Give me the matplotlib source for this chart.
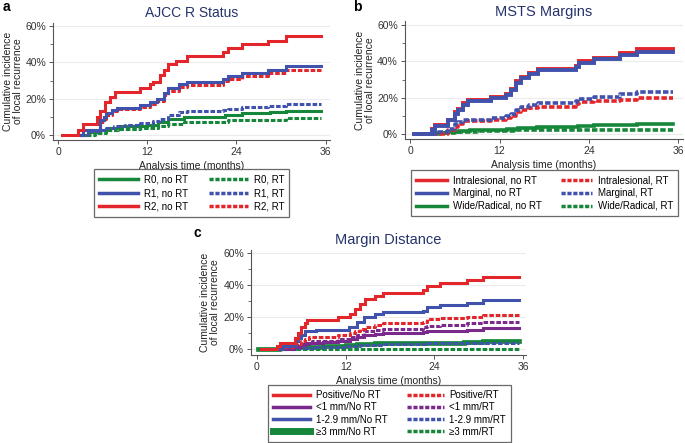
import numpy as np
import matplotlib
matplotlib.use("Agg")
import matplotlib.pyplot as plt
from matplotlib.lines import Line2D

plt.rcParams['font.family'] = ['Liberation Sans', 'DejaVu Sans']

RED = '#e3262b'
BLUE = '#4152ad'
GREEN = '#16873a'
PURPLE = '#7a2a8c'
NAVY = '#26336b'

# ---- panel a: AJCC R status ----
a_r2_nort_t = [0.5, 2.7, 3.4, 5.2, 5.6, 6.3, 7.0, 7.7, 11.0, 12.4, 12.8, 13.7, 14.2, 14.8, 15.9, 17.3, 22.2, 22.9, 24.7, 28.3, 30.7, 35.4]
a_r2_nort_y = [0, 3, 6, 10, 13, 18, 21, 23.5, 26, 28, 29, 33, 36, 39, 41, 43.5, 46, 48, 50, 52, 54.5, 54.5]
a_r1_nort_t = [3.0, 3.4, 5.6, 6.1, 6.5, 7.2, 7.9, 11.0, 12.4, 13.3, 14.2, 14.8, 16.2, 17.3, 22.2, 22.9, 24.7, 28.3, 30.7, 35.4]
a_r1_nort_y = [0, 3, 8, 10, 12, 14, 15, 16.5, 18, 20, 23, 26, 28, 29, 31, 32.5, 34, 36, 38, 38]
a_r2_rt_t = [3.0, 3.4, 5.6, 6.1, 6.5, 7.2, 7.9, 11.0, 12.4, 13.3, 14.2, 14.8, 16.2, 17.3, 22.2, 22.9, 24.7, 28.3, 30.7, 35.4]
a_r2_rt_y = [0, 2.5, 7, 9, 11, 13, 14.5, 15.5, 17, 19, 22, 24.5, 26.5, 27.5, 30, 31, 32.5, 34, 36, 36]
a_r1_rt_t = [3.0, 4.0, 5.6, 6.5, 7.5, 9.0, 11.0, 12.8, 13.7, 14.8, 16.2, 17.3, 22.2, 22.9, 24.7, 28.3, 30.7, 35.4]
a_r1_rt_y = [0, 2, 3, 4, 5, 5.5, 6.5, 7.5, 9, 11, 12.5, 13, 14, 14.5, 15.5, 16, 17, 17]
a_r0_nort_t = [3.0, 4.0, 5.6, 7.0, 8.0, 12.0, 13.5, 14.8, 17.0, 22.5, 24.7, 28.5, 30.7, 35.4]
a_r0_nort_y = [0, 1.5, 3, 4, 5, 5.5, 7, 9, 10, 11, 12, 12.5, 13.5, 13.5]
a_r0_rt_t = [3.0, 5.0, 6.5, 8.0, 11.0, 13.5, 14.8, 17.0, 22.8, 28.0, 30.7, 35.4]
a_r0_rt_y = [0, 1, 2.5, 3.5, 4, 5, 6, 7, 8, 8.5, 9.5, 9.5]

# ---- panel b: MSTS margins ----
b_intra_nort_t = [0.5, 2.9, 3.3, 5.1, 6.0, 6.4, 7.1, 7.8, 10.9, 12.9, 13.6, 14.2, 14.9, 16.0, 17.1, 22.2, 22.7, 24.7, 28.2, 30.4, 35.3]
b_intra_nort_y = [0, 3, 5, 8, 12, 14, 17, 18.5, 20.5, 22, 25, 29, 31.5, 33.5, 35.5, 37.5, 40, 42, 44.5, 46.5, 46.5]
b_marg_nort_t = [0.5, 2.9, 3.3, 5.1, 6.0, 6.4, 7.1, 7.8, 10.9, 12.9, 13.6, 14.2, 14.9, 16.0, 17.1, 22.2, 22.7, 24.7, 28.2, 30.4, 35.3]
b_marg_nort_y = [0, 2, 4.5, 7.5, 11, 13.5, 16, 18, 20, 21.5, 24.5, 28, 31, 33, 35, 37, 39, 41.5, 43.5, 45, 45]
b_marg_rt_t = [3.0, 3.5, 5.1, 6.0, 6.4, 7.1, 10.9, 12.9, 13.6, 14.2, 14.9, 16.0, 17.1, 22.2, 22.7, 24.7, 28.2, 30.4, 35.3]
b_marg_rt_y = [0, 1, 3, 5.5, 6.5, 8, 9, 10, 11, 13, 15, 16, 17, 18, 19.5, 20.5, 22, 23, 23]
b_intra_rt_t = [3.0, 5.1, 6.0, 6.4, 7.1, 10.9, 12.9, 13.6, 14.2, 14.9, 16.0, 17.1, 22.2, 22.7, 24.7, 28.2, 30.4, 35.3]
b_intra_rt_y = [0, 2, 4, 5.5, 7, 8, 9, 10, 12, 13.5, 14.5, 15, 16.5, 17.5, 18, 19, 20, 20]
b_wide_nort_t = [0.5, 3.0, 5.0, 6.5, 8.0, 11.0, 13.0, 14.5, 17.0, 22.5, 24.7, 30.4, 35.3]
b_wide_nort_y = [0, 0.5, 1, 1.5, 2, 2.5, 3, 3.5, 4, 4.5, 5, 5.5, 5.5]
b_wide_rt_t = [0.5, 4.0, 6.0, 9.0, 14.0, 35.3]
b_wide_rt_y = [0, 0.5, 1, 1.5, 2, 2]

# ---- panel c: margin distance ----
c_pos_nort_t = [0.5, 2.7, 3.1, 5.1, 5.6, 6.0, 6.5, 6.8, 11.0, 12.6, 13.3, 13.9, 14.6, 16.0, 17.1, 22.5, 23.0, 24.8, 28.4, 30.6, 35.4]
c_pos_nort_y = [0, 2, 4, 7, 10, 14, 16, 18, 20, 22, 25, 28, 31, 33, 35, 37, 39.5, 41, 43, 45, 45]
c_mid_nort_t = [3.0, 3.5, 5.1, 5.6, 6.0, 6.5, 8.0, 12.5, 13.5, 14.5, 16.0, 17.1, 22.5, 23.0, 24.8, 28.4, 30.6, 35.4]
c_mid_nort_y = [0, 2, 5, 7, 9, 11, 12, 14, 17, 20, 22, 23, 24, 26, 27.5, 29, 30.5, 30.5]
c_pos_rt_t = [3.0, 3.5, 5.1, 6.0, 6.5, 7.0, 11.0, 12.6, 13.3, 14.0, 14.6, 16.0, 17.1, 22.5, 23.0, 24.8, 28.4, 30.6, 35.4]
c_pos_rt_y = [0, 1, 3, 5, 6.5, 7.5, 8.5, 10, 11, 12.5, 14, 15, 16, 17, 18.5, 19.5, 20, 21.5, 21.5]
c_lt1_rt_t = [3.0, 4.0, 5.5, 6.5, 7.5, 11.0, 12.6, 13.5, 14.5, 16.0, 17.1, 22.5, 23.0, 24.8, 28.4, 30.6, 35.4]
c_lt1_rt_y = [0, 1, 2.5, 4, 5, 6, 7.5, 9, 11, 12, 12.5, 13.5, 14.5, 15, 16, 17, 17]
c_lt1_nort_t = [3.0, 5.0, 6.0, 7.0, 9.0, 11.0, 12.6, 13.5, 14.5, 16.0, 17.1, 22.5, 23.0, 24.8, 28.4, 30.6, 35.4]
c_lt1_nort_y = [0, 1.5, 3, 4, 4.5, 5, 6, 7.5, 9, 9.5, 10, 10.5, 11, 11.5, 12, 13, 13]
c_ge3_nort_t = [0.2, 3.0, 5.0, 7.0, 9.0, 12.0, 13.5, 16.0, 22.5, 28.0, 30.6, 35.4]
c_ge3_nort_y = [0, 0.5, 1, 1.5, 2, 2.5, 3, 3.5, 4, 4.5, 5, 5]
c_mid_rt_t = [3.0, 5.0, 8.0, 12.0, 14.0, 17.0, 23.0, 30.6, 35.4]
c_mid_rt_y = [0, 0.5, 1, 2, 2.5, 3, 3.5, 4, 4]
c_ge3_rt_t = [1.0, 35.4]
c_ge3_rt_y = [0, 0]

yticks = [0, 20, 40, 60]
ytick_labels = ['0%', '20%', '40%', '60%']
xticks = [0, 12, 24, 36]

DASH = (1.5, 0.6)


def setup_axes(ax, title, tsize):
    ax.set_xlim(-0.7, 36.6)
    ax.set_ylim(-2.75, 62)
    ax.set_yticks(yticks)
    ax.set_yticklabels(ytick_labels)
    ax.set_yticks([10, 30, 50], minor=True)
    ax.set_xticks(xticks)
    ax.grid(axis='y', which='major', color='#ececec', lw=0.8)
    ax.set_axisbelow(True)
    for s in ['top', 'right']:
        ax.spines[s].set_visible(False)
    for s in ['left', 'bottom']:
        ax.spines[s].set_color('#555555')
        ax.spines[s].set_linewidth(0.8)
    ax.tick_params(which='major', length=3, width=0.7, color='#555555', labelsize=7.5, labelcolor='#333333', pad=2)
    ax.tick_params(which='minor', length=2, width=0.6, color='#555555')
    ax.set_title(title, fontsize=tsize, color=NAVY, pad=4)
    ax.set_xlabel('Analysis time (months)', fontsize=7.5, color='#222222', labelpad=3)
    ax.set_ylabel('Cumulative incidence\nof local recurrence', fontsize=7.5, color='#222222', linespacing=1.0)


def curve(ax, t, y, color, dashed=False, lw=2.2):
    if dashed:
        ax.step(t, y, where='post', color=color, lw=lw, dashes=DASH)
    else:
        ax.step(t, y, where='post', color=color, lw=lw, solid_joinstyle='miter')


def handle(color, dashed=False, lw=2.5):
    if dashed:
        return Line2D([], [], color=color, lw=lw, dashes=(1.2, 0.5))
    return Line2D([], [], color=color, lw=lw)


fig = plt.figure(figsize=(6.85, 4.43), dpi=100)

# panel a
ax_a = fig.add_axes([0.0774, 0.684, 0.4044, 0.265])
setup_axes(ax_a, 'AJCC R Status', 10)
ax_a.yaxis.set_label_coords(-0.11, 0.5)
curve(ax_a, a_r0_rt_t, a_r0_rt_y, GREEN, True)
curve(ax_a, a_r0_nort_t, a_r0_nort_y, GREEN)
curve(ax_a, a_r1_rt_t, a_r1_rt_y, BLUE, True)
curve(ax_a, a_r2_rt_t, a_r2_rt_y, RED, True)
curve(ax_a, a_r1_nort_t, a_r1_nort_y, BLUE)
curve(ax_a, a_r2_nort_t, a_r2_nort_y, RED)

# panel b
ax_b = fig.add_axes([0.591, 0.686, 0.406, 0.266])
setup_axes(ax_b, 'MSTS Margins', 10.5)
ax_b.yaxis.set_label_coords(-0.108, 0.5)
curve(ax_b, b_wide_rt_t, b_wide_rt_y, GREEN, True, 2.6)
curve(ax_b, b_wide_nort_t, b_wide_nort_y, GREEN, False, 2.6)
curve(ax_b, b_intra_rt_t, b_intra_rt_y, RED, True, 2.6)
curve(ax_b, b_marg_rt_t, b_marg_rt_y, BLUE, True, 2.6)
curve(ax_b, b_intra_nort_t, b_intra_nort_y, RED, False, 2.8)
curve(ax_b, b_marg_nort_t, b_marg_nort_y, BLUE, False, 2.8)

# panel c
ax_c = fig.add_axes([0.3664, 0.1995, 0.4015, 0.2366])
setup_axes(ax_c, 'Margin Distance', 10.5)
ax_c.set_xlim(-0.8, 36.4)
ax_c.set_ylim(-3.5, 62)
ax_c.yaxis.set_label_coords(-0.112, 0.5)
curve(ax_c, c_ge3_rt_t, c_ge3_rt_y, GREEN, True)
curve(ax_c, c_ge3_nort_t, c_ge3_nort_y, GREEN, False, 3.4)
curve(ax_c, c_mid_rt_t, c_mid_rt_y, BLUE, True)
curve(ax_c, c_lt1_nort_t, c_lt1_nort_y, PURPLE)
curve(ax_c, c_lt1_rt_t, c_lt1_rt_y, PURPLE, True)
curve(ax_c, c_pos_rt_t, c_pos_rt_y, RED, True)
curve(ax_c, c_mid_nort_t, c_mid_nort_y, BLUE)
curve(ax_c, c_pos_nort_t, c_pos_nort_y, RED)

leg_kw = dict(loc='center', ncol=2, fontsize=7, frameon=True, fancybox=False,
              edgecolor='#444444', borderpad=0.5, handletextpad=0.6)

# legends
h_a = [handle(GREEN), handle(BLUE), handle(RED),
       handle(GREEN, True), handle(BLUE, True), handle(RED, True)]
l_a = ['R0, no RT', 'R1, no RT', 'R2, no RT', 'R0, RT', 'R1, RT', 'R2, RT']
lg = fig.legend(h_a, l_a, bbox_to_anchor=(0.2796, 0.5643), handlelength=4.0,
                labelspacing=0.38, columnspacing=2.2, **leg_kw)
lg.get_frame().set_linewidth(0.9)

h_b = [handle(RED), handle(BLUE), handle(GREEN),
       handle(RED, True), handle(BLUE, True), handle(GREEN, True)]
l_b = ['Intralesional, no RT', 'Marginal, no RT', 'Wide/Radical, no RT',
       'Intralesional, RT', 'Marginal, RT', 'Wide/Radical, RT']
lg = fig.legend(h_b, l_b, bbox_to_anchor=(0.795, 0.5643), handlelength=3.2,
                labelspacing=0.3, columnspacing=2.0, **leg_kw)
lg.get_frame().set_linewidth(0.9)

h_c = [handle(RED), handle(PURPLE), handle(BLUE), handle(GREEN, lw=5),
       handle(RED, True), handle(PURPLE, True), handle(BLUE, True), handle(GREEN, True)]
l_c = ['Positive/No RT', '<1 mm/No RT', '1-2.9 mm/No RT', '\u22653 mm/No RT',
       'Positive/RT', '<1 mm/RT', '1-2.9 mm/RT', '\u22653 mm/RT']
lg = fig.legend(h_c, l_c, bbox_to_anchor=(0.5686, 0.0666), handlelength=3.8,
                labelspacing=0.22, columnspacing=2.0, **leg_kw)
lg.get_frame().set_linewidth(0.9)

# panel letters
fig.text(0.004, 0.985, 'a', fontsize=10, fontweight='bold', va='center')
fig.text(0.515, 0.985, 'b', fontsize=10, fontweight='bold', va='center')
fig.text(0.282, 0.474, 'c', fontsize=10, fontweight='bold', va='center')

fig.savefig('out.png', dpi=100)
